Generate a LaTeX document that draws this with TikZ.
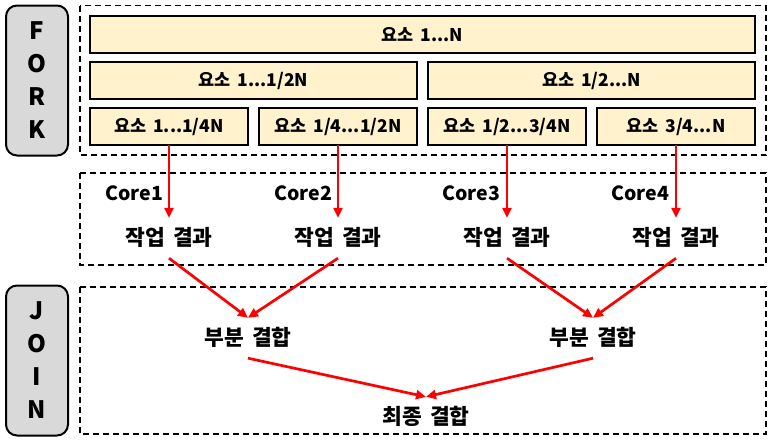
\documentclass[tikz,border=0pt]{standalone}
\usepackage{fontspec}
\setmainfont{Noto Sans CJK KR}[WordSpace=1.7]
\usetikzlibrary{arrows.meta}
\definecolor{boxfill}{HTML}{FFF2CC}
\definecolor{labfill}{HTML}{D9D9D9}
\definecolor{arr}{HTML}{FF0000}
\tikzset{
  elem/.style={draw=black, line width=2pt, fill=boxfill, minimum height=37pt, inner sep=0pt, outer sep=0pt, font=\fontsize{17.5}{17.5}\selectfont\bfseries},
  side/.style={draw=black, line width=2pt, fill=labfill, rounded corners=11pt, minimum width=62pt, minimum height=150pt, inner sep=0pt, font=\fontsize{24}{33}\selectfont\bfseries, align=center},
  frame/.style={draw=black, line width=1.8pt, dash pattern=on 6pt off 4pt},
  res/.style={inner xsep=0pt, inner ysep=12pt, text height=15pt, text depth=1pt, font=\fontsize{21.5}{21.5}\selectfont\bfseries},
  corel/.style={inner sep=0pt, font=\fontsize{19.5}{19.5}\selectfont\bfseries},
  arrow/.style={draw=arr, line width=2.7pt, -{Triangle[length=10pt,width=9pt]}}
}
\begin{document}
\begin{tikzpicture}[x=1pt,y=-1pt]
\useasboundingbox (0,0) rectangle (773,442);
% side labels
\node[side] (fork) at (37,80.5) {F\\O\\R\\K};
\node[side, text depth=0pt] (join) at (37,360.5) {J\\O\\I\\N};
% frames
\draw[frame] (80,5.5) rectangle (766,155);
\draw[frame] (80,173) rectangle (766,265);
\draw[frame] (80,287) rectangle (766,434);
% elements
\node[elem, minimum width=665pt] (e0) at (422.5,34.5) {요소 1...N};
\node[elem, minimum width=327pt] (e1) at (253.5,80.5) {요소 1...1/2N};
\node[elem, minimum width=327pt] (e2) at (591.5,80.5) {요소 1/2...N};
\node[elem, minimum width=158pt] (b1) at (169,126.5) {요소 1...1/4N};
\node[elem, minimum width=158pt] (b2) at (338,126.5) {요소 1/4...1/2N};
\node[elem, minimum width=158pt] (b3) at (507,126.5) {요소 1/2...3/4N};
\node[elem, minimum width=158pt] (b4) at (676,126.5) {요소 3/4...N};
% cores
\node[corel] (c1) at (134,193) {Core1};
\node[corel] (c2) at (303,193) {Core2};
\node[corel] (c3) at (471,193) {Core3};
\node[corel] (c4) at (640,193) {Core4};
% results
\node[res] (r1) at (169,238) {작업 결과};
\node[res] (r2) at (338,238) {작업 결과};
\node[res] (r3) at (507,238) {작업 결과};
\node[res] (r4) at (676,238) {작업 결과};
\node[res] (p1) at (248,338) {부분 결합};
\node[res] (p2) at (593,338) {부분 결합};
\node[res] (f) at (426,417) {최종 결합};
% arrows
\draw[arrow] (b1.south) -- (r1.north);
\draw[arrow] (b2.south) -- (r2.north);
\draw[arrow] (b3.south) -- (r3.north);
\draw[arrow] (b4.south) -- (r4.north);
\draw[arrow] (r1.south) -- (p1.north);
\draw[arrow] (r2.south) -- (p1.north);
\draw[arrow] (r3.south) -- (p2.north);
\draw[arrow] (r4.south) -- (p2.north);
\draw[arrow] (p1.south) -- (f.north);
\draw[arrow] (p2.south) -- (f.north);
\end{tikzpicture}
\end{document}
